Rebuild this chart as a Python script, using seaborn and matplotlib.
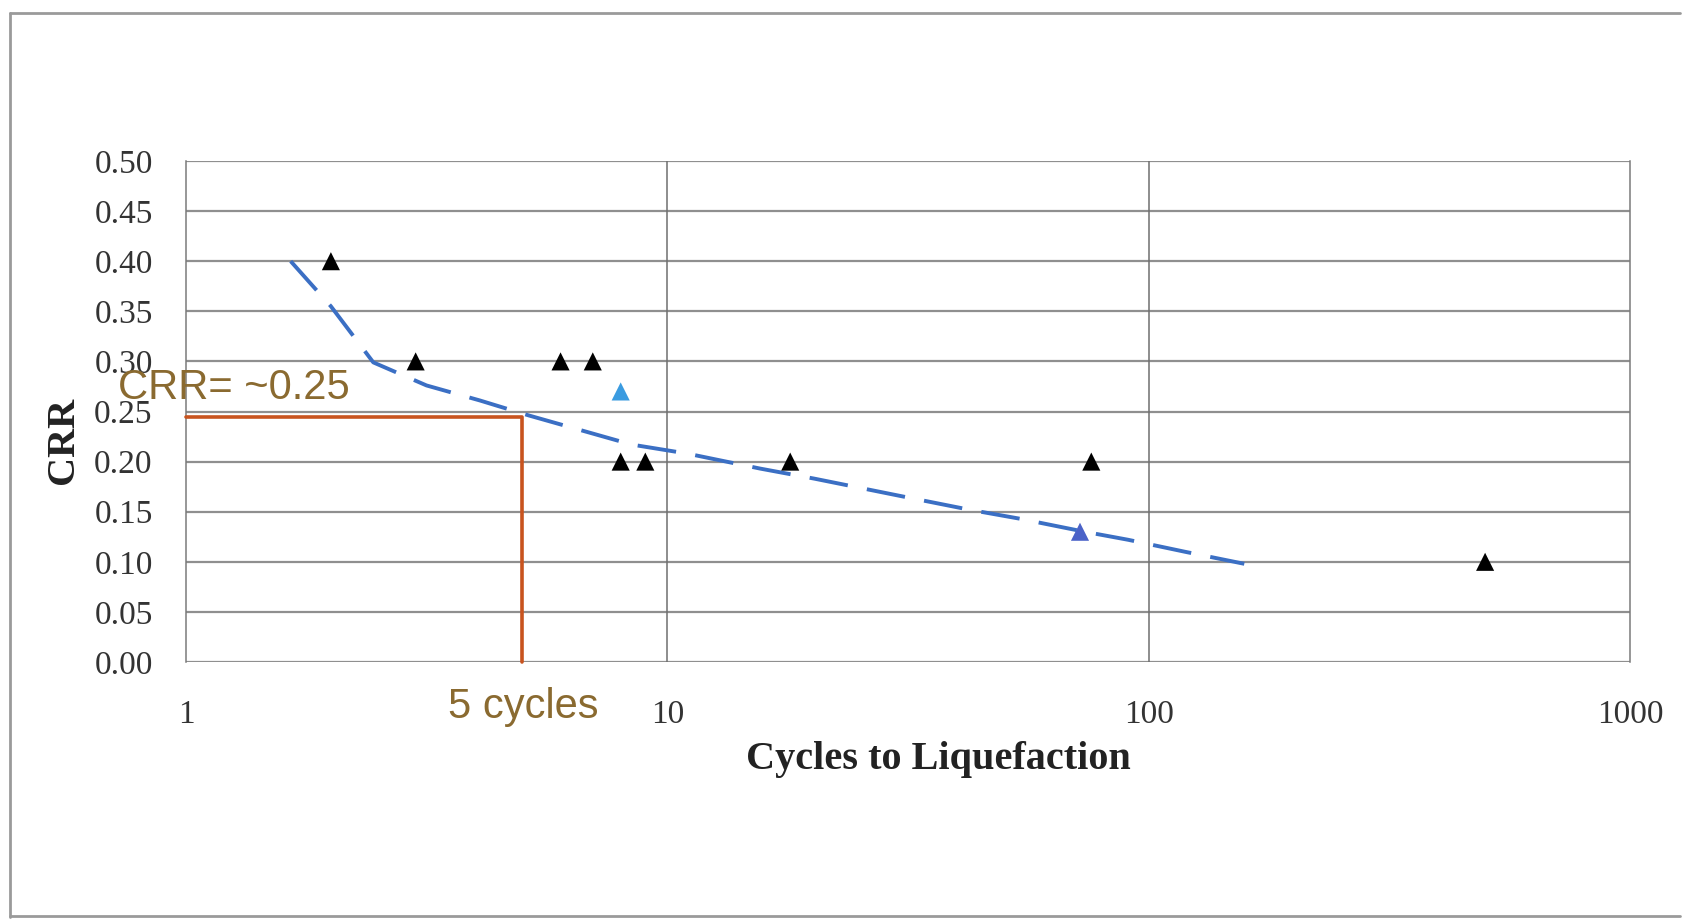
import matplotlib
matplotlib.use("Agg")
import matplotlib.pyplot as plt
import matplotlib.ticker as mticker
import pandas as pd
import seaborn as sns
from matplotlib.lines import Line2D

# test results (cycles to liquefaction vs CRR)
black_cycles = [2, 3, 6, 7, 8, 9, 18, 76, 500]
black_crr = [0.40, 0.30, 0.30, 0.30, 0.20, 0.20, 0.20, 0.20, 0.10]
blue_cycles = [8, 72]
blue_crr = [0.27, 0.13]
blue_colors = ["#3a9be0", "#4a62c8"]

# dashed trend line
trend_cycles = [1.65, 2.0, 2.45, 3.16, 4.08, 5.16, 8.43, 11.0, 15.6, 20.2, 31, 42.4, 54, 73.6, 90.6, 119, 158]
trend_crr = [0.40, 0.355, 0.299, 0.276, 0.261, 0.246, 0.217, 0.208, 0.193, 0.183, 0.165, 0.152, 0.143, 0.130, 0.122, 0.110, 0.098]

# CRR at 5 cycles marker
guide_cycles = [1, 5, 5]
guide_crr = [0.245, 0.245, 0.0]

x_ticks = [1, 10, 100, 1000]
y_ticks = [0.00, 0.05, 0.10, 0.15, 0.20, 0.25, 0.30, 0.35, 0.40, 0.45, 0.50]

sns.set_theme(style="white")
plt.rcParams['font.family'] = ['Liberation Serif', 'DejaVu Serif']

fig = plt.figure(figsize=(16.82, 9.21), dpi=100)
ax = fig.add_axes([186 / 1682, 1 - 662 / 921, 1444 / 1682, 501 / 921])

# outer frame of the chart area
for xs, ys in [([10 / 1682, 10 / 1682], [4 / 921, 908 / 921]),
               ([10 / 1682, 1680 / 1682], [908 / 921, 908 / 921]),
               ([10 / 1682, 1680 / 1682], [5 / 921, 5 / 921])]:
    fig.add_artist(Line2D(xs, ys, transform=fig.transFigure, color="#9a9a9a", lw=2))

ax.set_xscale("log")
ax.set_xlim(1, 1000)
ax.set_ylim(0, 0.5)
ax.set_xticks(x_ticks)
ax.xaxis.set_major_formatter(mticker.FuncFormatter(lambda v, p: f"{v:g}"))
ax.xaxis.set_minor_locator(mticker.NullLocator())
ax.set_yticks(y_ticks)
ax.yaxis.set_major_formatter(mticker.FormatStrFormatter("%.2f"))

for y in y_ticks:
    ax.axhline(y, color="#8f8f8f", lw=1.6, zorder=0)
for x in [10, 100]:
    ax.axvline(x, color="#6f6f6f", lw=1.1, zorder=0)
for side in ["left", "right"]:
    ax.spines[side].set_color("#7a7a7a")
    ax.spines[side].set_linewidth(1.1)
for side in ["top", "bottom"]:
    ax.spines[side].set_visible(False)

ax.tick_params(axis="x", length=0, pad=27, labelsize=24, labelcolor="#333333")
ax.tick_params(axis="y", length=0, pad=24, labelsize=24, labelcolor="#333333")

df_trend = pd.DataFrame({"cycles": trend_cycles, "crr": trend_crr})
sns.lineplot(data=df_trend, x="cycles", y="crr", ax=ax, sort=False, estimator=None,
             color="#3b6fc4", lw=2.8, dashes=False, zorder=3)
ax.lines[-1].set_dashes([10, 5])

df_black = pd.DataFrame({"cycles": black_cycles, "crr": black_crr})
sns.scatterplot(data=df_black, x="cycles", y="crr", ax=ax, marker="^", s=170,
                color="black", edgecolor="none", zorder=4)
df_blue = pd.DataFrame({"cycles": blue_cycles, "crr": blue_crr, "c": blue_colors})
sns.scatterplot(data=df_blue, x="cycles", y="crr", ax=ax, marker="^", s=170,
                hue="c", palette=dict(zip(blue_colors, blue_colors)), edgecolor="none",
                legend=False, zorder=4)

ax.plot(guide_cycles, guide_crr, color="#c8531e", lw=2.6, zorder=5, clip_on=False)

ax.text(0.722, 0.2625, "CRR= ~0.25", color="#8a6a30", fontsize=30,
        family=["Liberation Sans", "DejaVu Sans"], va="baseline", ha="left", clip_on=False)
ax.text(3.5, -0.056, "5 cycles", color="#8a6a30", fontsize=30,
        family=["Liberation Sans", "DejaVu Sans"], va="baseline", ha="left", clip_on=False)

ax.set_xlabel("Cycles to Liquefaction", fontsize=29, fontweight="bold", color="#222222", va="center")
ax.xaxis.set_label_coords(0.521, -0.194)
ax.set_ylabel("CRR", fontsize=29, fontweight="bold", color="#222222", va="center")
ax.yaxis.set_label_coords(-0.0845, 0.443)

fig.savefig("out.png", dpi=100)
